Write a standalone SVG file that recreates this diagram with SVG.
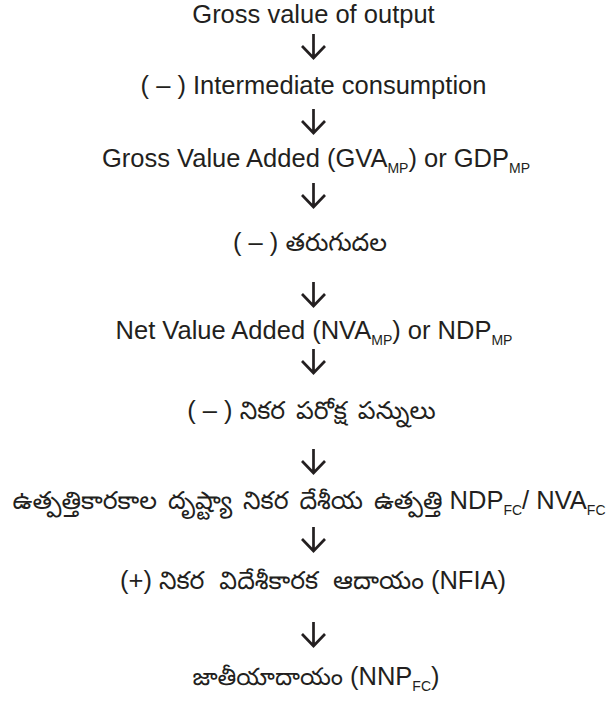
<svg xmlns="http://www.w3.org/2000/svg" width="615" height="720" viewBox="0 0 615 720">
<style>
.t{font-family:"Liberation Sans","Noto Sans Telugu","Noto Sans",sans-serif;font-size:25.5px;fill:#231f20;text-anchor:middle}
.te{font-size:25px;word-spacing:4px}
.s{font-size:14px}
.a{stroke:#231f20;stroke-width:2.7;fill:none}
</style>
<rect width="615" height="720" fill="#fff"/>
<defs>
<path id="arr" class="a" d="M0,0 V24 M-11.5,12 L0,24 L11.5,12"/>
</defs>
<g id="n1"><text class="t" x="313.5" y="23">Gross value of output</text></g>
<g id="n2"><text class="t" x="313.5" y="94">( – ) Intermediate consumption</text></g>
<g id="n3"><text class="t" x="316" y="167">Gross Value Added (GVA<tspan class="s" dy="6">MP</tspan><tspan dy="-6">) or GDP</tspan><tspan class="s" dy="6">MP</tspan></text></g>
<g id="n4"><text class="t" x="310" y="251">( – ) <tspan class="te">తరుగుదల</tspan></text></g>
<g id="n5"><text class="t" x="314" y="339">Net Value Added (NVA<tspan class="s" dy="6">MP</tspan><tspan dy="-6">) or NDP</tspan><tspan class="s" dy="6">MP</tspan></text></g>
<g id="n6"><text class="t" x="311.5" y="419">( – ) <tspan class="te">నికర పరోక్ష పన్నులు</tspan></text></g>
<g id="n7"><text class="t" x="309" y="509"><tspan class="te">ఉత్పత్తికారకాల దృష్ట్యా నికర దేశీయ ఉత్పత్తి</tspan> NDP<tspan class="s" dy="6">FC</tspan><tspan dy="-6">/ NVA</tspan><tspan class="s" dy="6">FC</tspan></text></g>
<g id="n8"><text class="t" x="313" y="589">(+) <tspan class="te" style="word-spacing:8px">నికర విదేశీకారక ఆదాయం</tspan> (NFIA)</text></g>
<g id="n9"><text class="t" x="316" y="685"><tspan class="te" style="font-size:24px">జాతీయాదాయం</tspan> (NNP<tspan class="s" dy="6">FC</tspan><tspan dy="-6">)</tspan></text></g>
<g id="connectors">
<use href="#arr" x="313.5" y="34"/>
<use href="#arr" x="313.5" y="109"/>
<use href="#arr" x="313.5" y="183"/>
<use href="#arr" x="313.5" y="282"/>
<use href="#arr" x="313.5" y="349"/>
<use href="#arr" x="313.5" y="449"/>
<use href="#arr" x="313.5" y="527"/>
<use href="#arr" x="313.5" y="622"/>
</g>
</svg>
